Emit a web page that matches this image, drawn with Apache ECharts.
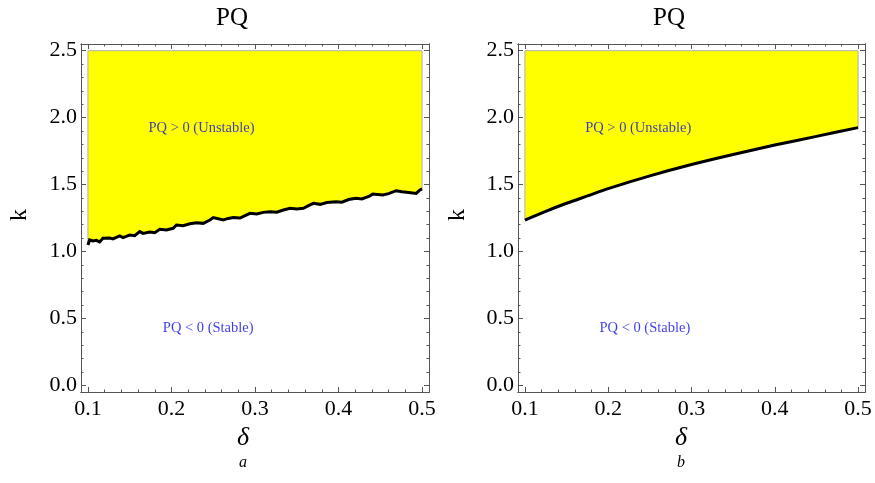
<!DOCTYPE html>
<html><head><meta charset="utf-8">
<script src="https://cdn.jsdelivr.net/npm/echarts@6/dist/echarts.min.js"></script>
<style>html,body{margin:0;padding:0;background:#fff}#c{width:875px;height:483px}</style>
</head><body><div id="c"></div>
<script>
// Panel a: boundary PQ = 0 (jagged)
const boundaryA = [
  [0.100,1.048],[0.102,1.086],[0.106,1.078],[0.110,1.083],[0.114,1.071],[0.118,1.098],
  [0.126,1.100],[0.130,1.094],[0.138,1.116],[0.142,1.103],[0.146,1.112],[0.150,1.123],
  [0.156,1.118],[0.162,1.148],[0.166,1.135],[0.174,1.146],[0.180,1.140],[0.186,1.165],
  [0.194,1.160],[0.202,1.173],[0.206,1.198],[0.214,1.193],[0.222,1.207],[0.230,1.215],
  [0.238,1.210],[0.246,1.235],[0.250,1.253],[0.262,1.235],[0.268,1.247],[0.274,1.253],
  [0.282,1.250],[0.294,1.285],[0.302,1.280],[0.310,1.292],[0.318,1.297],[0.326,1.293],
  [0.334,1.310],[0.342,1.322],[0.350,1.318],[0.358,1.322],[0.364,1.342],[0.370,1.360],
  [0.378,1.352],[0.386,1.366],[0.397,1.372],[0.404,1.368],[0.412,1.388],[0.421,1.397],
  [0.428,1.392],[0.437,1.414],[0.441,1.429],[0.453,1.422],[0.460,1.432],[0.469,1.454],
  [0.476,1.446],[0.484,1.440],[0.493,1.434],[0.497,1.458],[0.500,1.467]
];
// Panel b: smooth boundary
const boundaryB = [
  [0.100,1.235],[0.125,1.300],[0.150,1.360],[0.175,1.415],[0.200,1.470],[0.250,1.565],
  [0.300,1.650],[0.350,1.725],[0.400,1.795],[0.450,1.860],[0.500,1.925]
];
const kTop = 2.5;
const xRange = [0.1, 0.5];
const xMajor = [0.1,0.2,0.3,0.4,0.5];
const xMinor = [0.12,0.14,0.16,0.18,0.22,0.24,0.26,0.28,0.32,0.34,0.36,0.38,0.42,0.44,0.46,0.48];
const yMajor = [0,0.5,1.0,1.5,2.0,2.5];
const yMinor = [0.1,0.2,0.3,0.4,0.6,0.7,0.8,0.9,1.1,1.2,1.3,1.4,1.6,1.7,1.8,1.9,2.1,2.2,2.3,2.4];
const panelTitles = ['PQ','PQ'];
const panelTags = ['a','b'];
const regionTexts = ['PQ > 0 (Unstable)','PQ < 0 (Stable)'];

const FONT = 'Liberation Serif';
const FRAME = '#555';
const XMIN = 0.0917, XMAX = 0.5083, YMIN = -0.05, YMAX = 2.55;

function xAx(g, pos, ticks, len, labels){
  return {type:'value', gridIndex:g, position:pos, min:XMIN, max:XMAX,
    axisLine:{show:true, onZero:false, lineStyle:{color:FRAME,width:1}},
    axisTick:{show:true, inside:true, length:len, customValues:ticks, lineStyle:{color:FRAME,width:1}},
    axisLabel:{show:labels, customValues:xMajor, formatter:v=>v.toFixed(1), fontFamily:FONT, fontSize:22, color:'#000', margin:6},
    splitLine:{show:false}};
}
function yAx(g, pos, ticks, len, labels){
  return {type:'value', gridIndex:g, position:pos, min:YMIN, max:YMAX,
    axisLine:{show:true, onZero:false, lineStyle:{color:FRAME,width:1}},
    axisTick:{show:true, inside:true, length:len, customValues:ticks, lineStyle:{color:FRAME,width:1}},
    axisLabel:{show:labels, customValues:yMajor, formatter:v=>v.toFixed(1), fontFamily:FONT, fontSize:22, color:'#000', margin:4},
    splitLine:{show:false}};
}
const grids = [
  {left:81, top:44, width:348, height:348},
  {left:518, top:44, width:347, height:348}
];
const xAxes = [], yAxes = [];
for (let g=0; g<2; g++){
  xAxes.push(xAx(g,'bottom',xMajor,5,true), xAx(g,'bottom',xMinor,2.5,false),
             xAx(g,'top',xMajor,5,false), xAx(g,'top',xMinor,2.5,false));
  yAxes.push(yAx(g,'left',yMajor,5,true), yAx(g,'left',yMinor,2.5,false),
             yAx(g,'right',yMajor,5,false), yAx(g,'right',yMinor,2.5,false));
}
function regionSeries(g, bnd){
  return {type:'custom', xAxisIndex:g*4, yAxisIndex:g*4, data:[0], z:1,
    renderItem:function(params, api){
      const pts = bnd.map(p=>api.coord([Math.max(p[0],xRange[0]), p[1]]));
      pts.push(api.coord([xRange[1], kTop]));
      pts.push(api.coord([xRange[0], kTop]));
      return {type:'polygon', shape:{points:pts}, style:{fill:'#ffff00', stroke:'#b0b0b0', lineWidth:1}};
    }};
}
function lineSeries(g, bnd){
  return {type:'line', xAxisIndex:g*4, yAxisIndex:g*4, data:bnd, symbol:'none', z:3,
    lineStyle:{color:'#000', width:3, join:'miter'}, silent:true};
}
function textSeries(g){
  return {type:'scatter', xAxisIndex:g*4, yAxisIndex:g*4, symbolSize:0, z:4,
    data:[[0.236,1.92,regionTexts[0]],[0.244,0.43,regionTexts[1]]],
    label:{show:true, position:'inside', formatter:p=>p.data[2], fontFamily:FONT, fontSize:14.5, color:'#0d0de6'}};
}
const graphic = [];
const panelCx = [232, 669], axisCx = [243, 681], kx = [20, 458];
for (let g=0; g<2; g++){
  graphic.push({type:'text', x:panelCx[g], y:18, style:{text:panelTitles[g], font:'25px "Liberation Serif"', fill:'#000', textAlign:'center', textVerticalAlign:'middle'}});
  graphic.push({type:'text', x:axisCx[g], y:438, style:{text:'δ', font:'italic 26px "Liberation Serif"', fill:'#000', textAlign:'center', textVerticalAlign:'middle'}});
  graphic.push({type:'text', x:axisCx[g], y:463, style:{text:panelTags[g], font:'italic 16px "Liberation Serif"', fill:'#000', textAlign:'center', textVerticalAlign:'middle'}});
  graphic.push({type:'text', x:kx[g], y:215, rotation:Math.PI/2, style:{text:'k', font:'24px "Liberation Serif"', fill:'#000', textAlign:'center', textVerticalAlign:'middle'}});
}
const chart = echarts.init(document.getElementById('c'), null, {renderer:'canvas'});
chart.setOption({
  animation:false,
  grid:grids, xAxis:xAxes, yAxis:yAxes, graphic:graphic,
  series:[regionSeries(0,boundaryA), lineSeries(0,boundaryA), textSeries(0),
          regionSeries(1,boundaryB), {...lineSeries(1,boundaryB), smooth:0.3}, textSeries(1)]
});
</script></body></html>
